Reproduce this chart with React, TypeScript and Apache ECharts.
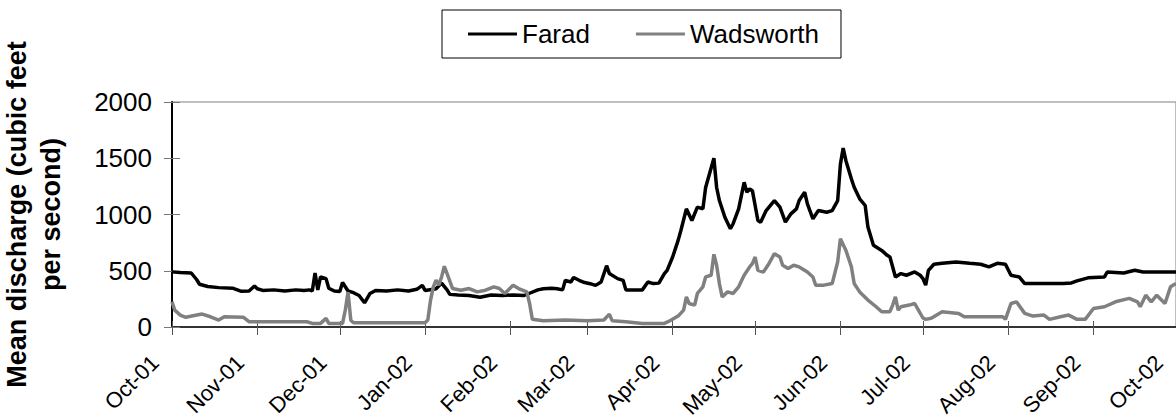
import { useEffect, useRef } from 'react';
import * as echarts from 'echarts';

// X-axis month ticks
const tickDates = [
  '2001-10-01', '2001-11-01', '2001-12-01', '2002-01-01', '2002-02-01', '2002-03-01', '2002-04-01',
  '2002-05-01', '2002-06-01', '2002-07-01', '2002-08-01', '2002-09-01', '2002-10-01',
];
const tickLabels = [
  'Oct-01', 'Nov-01', 'Dec-01', 'Jan-02', 'Feb-02', 'Mar-02', 'Apr-02',
  'May-02', 'Jun-02', 'Jul-02', 'Aug-02', 'Sep-02', 'Oct-02',
];

// Farad (black)
const faradDates = [
  '2001-10-01', '2001-10-04', '2001-10-08', '2001-10-10', '2001-10-11', '2001-10-14', '2001-10-18', '2001-10-23',
  '2001-10-26', '2001-10-29', '2001-10-31', '2001-11-01', '2001-11-03', '2001-11-07', '2001-11-11', '2001-11-15',
  '2001-11-18', '2001-11-20', '2001-11-21', '2001-11-22', '2001-11-23', '2001-11-24', '2001-11-26', '2001-11-27',
  '2001-11-29', '2001-12-01', '2001-12-02', '2001-12-04', '2001-12-06', '2001-12-08', '2001-12-10', '2001-12-12',
  '2001-12-14', '2001-12-18', '2001-12-22', '2001-12-26', '2001-12-29', '2001-12-31', '2002-01-01', '2002-01-04',
  '2002-01-05', '2002-01-07', '2002-01-09', '2002-01-10', '2002-01-13', '2002-01-17', '2002-01-21', '2002-01-25',
  '2002-01-29', '2002-02-02', '2002-02-06', '2002-02-08', '2002-02-11', '2002-02-13', '2002-02-16', '2002-02-18',
  '2002-02-20', '2002-02-21', '2002-02-23', '2002-02-24', '2002-02-26', '2002-02-28', '2002-03-02', '2002-03-04',
  '2002-03-06', '2002-03-08', '2002-03-09', '2002-03-12', '2002-03-14', '2002-03-15', '2002-03-18', '2002-03-21',
  '2002-03-23', '2002-03-25', '2002-03-27', '2002-03-29', '2002-03-30', '2002-04-01', '2002-04-03', '2002-04-04',
  '2002-04-06', '2002-04-08', '2002-04-10', '2002-04-12', '2002-04-13', '2002-04-16', '2002-04-17', '2002-04-18',
  '2002-04-20', '2002-04-22', '2002-04-23', '2002-04-25', '2002-04-27', '2002-04-28', '2002-04-29', '2002-04-30',
  '2002-05-02', '2002-05-03', '2002-05-05', '2002-05-08', '2002-05-10', '2002-05-12', '2002-05-14', '2002-05-16',
  '2002-05-17', '2002-05-19', '2002-05-20', '2002-05-22', '2002-05-24', '2002-05-27', '2002-05-29', '2002-05-31',
  '2002-06-01', '2002-06-02', '2002-06-03', '2002-06-05', '2002-06-06', '2002-06-08', '2002-06-10', '2002-06-11',
  '2002-06-13', '2002-06-16', '2002-06-18', '2002-06-19', '2002-06-21', '2002-06-23', '2002-06-25', '2002-06-28',
  '2002-06-30', '2002-07-01', '2002-07-02', '2002-07-03', '2002-07-05', '2002-07-08', '2002-07-13', '2002-07-18',
  '2002-07-22', '2002-07-25', '2002-07-28', '2002-07-31', '2002-08-02', '2002-08-05', '2002-08-07', '2002-08-11',
  '2002-08-16', '2002-08-21', '2002-08-24', '2002-08-26', '2002-08-30', '2002-09-05', '2002-09-06', '2002-09-12',
  '2002-09-16', '2002-09-19', '2002-10-01',
];
const faradValues = [
  490, 485, 480, 420, 380, 360, 350, 345,
  318, 320, 365, 340, 325, 330, 320, 330,
  325, 330, 320, 480, 330, 445, 430, 345,
  320, 315, 395, 320, 305, 280, 215, 298,
  325, 320, 330, 320, 335, 370, 325, 335,
  340, 390, 330, 290, 285, 280, 265, 285,
  280, 285, 280, 300, 330, 340, 345, 340,
  330, 415, 400, 440, 415, 395, 385, 370,
  400, 545, 475, 430, 415, 330, 330, 330,
  400, 386, 390, 475, 504, 622, 770, 858,
  1050, 947, 1065, 1050, 1240, 1500, 1240, 1124,
  976, 873, 918, 1050, 1286, 1198, 1227, 1212,
  947, 932, 1035, 1124, 1065, 932, 1006, 1050,
  1124, 1198, 1094, 962, 1035, 1020, 1035, 1124,
  1448, 1590, 1478, 1316, 1242, 1139, 1080, 888,
  726, 681, 637, 622, 445, 475, 460, 489,
  460, 431, 372, 504, 558, 566, 578, 566,
  558, 534, 566, 558, 460, 445, 386, 386,
  386, 386, 392, 410, 437, 445, 489, 480,
  504, 489, 489,
];

// Wadsworth (grey)
const wadsworthDates = [
  '2001-10-01', '2001-10-02', '2001-10-04', '2001-10-06', '2001-10-10', '2001-10-12', '2001-10-15', '2001-10-18',
  '2001-10-20', '2001-10-27', '2001-10-29', '2001-11-19', '2001-11-21', '2001-11-24', '2001-11-26', '2001-11-27',
  '2001-12-02', '2001-12-03', '2001-12-04', '2001-12-05', '2001-12-06', '2002-01-01', '2002-01-02', '2002-01-03',
  '2002-01-04', '2002-01-05', '2002-01-06', '2002-01-07', '2002-01-08', '2002-01-09', '2002-01-11', '2002-01-14',
  '2002-01-17', '2002-01-20', '2002-01-23', '2002-01-26', '2002-01-28', '2002-01-30', '2002-02-02', '2002-02-04',
  '2002-02-07', '2002-02-08', '2002-02-09', '2002-02-13', '2002-02-21', '2002-03-01', '2002-03-07', '2002-03-09',
  '2002-03-10', '2002-03-15', '2002-03-21', '2002-03-29', '2002-03-31', '2002-04-03', '2002-04-05', '2002-04-06',
  '2002-04-07', '2002-04-09', '2002-04-10', '2002-04-12', '2002-04-13', '2002-04-15', '2002-04-16', '2002-04-17',
  '2002-04-18', '2002-04-19', '2002-04-21', '2002-04-23', '2002-04-25', '2002-04-27', '2002-04-29', '2002-04-30',
  '2002-05-01', '2002-05-02', '2002-05-04', '2002-05-06', '2002-05-08', '2002-05-10', '2002-05-11', '2002-05-13',
  '2002-05-15', '2002-05-17', '2002-05-20', '2002-05-22', '2002-05-23', '2002-05-26', '2002-05-29', '2002-05-31',
  '2002-06-01', '2002-06-03', '2002-06-05', '2002-06-06', '2002-06-08', '2002-06-11', '2002-06-14', '2002-06-16',
  '2002-06-19', '2002-06-20', '2002-06-21', '2002-06-22', '2002-06-23', '2002-06-26', '2002-06-28', '2002-06-29',
  '2002-07-01', '2002-07-02', '2002-07-04', '2002-07-08', '2002-07-14', '2002-07-16', '2002-07-30', '2002-07-31',
  '2002-08-02', '2002-08-04', '2002-08-07', '2002-08-10', '2002-08-14', '2002-08-16', '2002-08-20', '2002-08-23',
  '2002-08-26', '2002-08-29', '2002-09-01', '2002-09-05', '2002-09-09', '2002-09-14', '2002-09-17', '2002-09-18',
  '2002-09-20', '2002-09-22', '2002-09-24', '2002-09-27', '2002-09-29', '2002-10-01',
];
const wadsworthValues = [
  224, 150, 106, 86, 106, 115, 91, 62,
  91, 86, 47, 47, 32, 32, 77, 32,
  32, 150, 310, 60, 38, 38, 62, 239,
  357, 416, 372, 445, 540, 475, 342, 327,
  342, 312, 327, 357, 342, 298, 372, 342,
  312, 209, 68, 56, 62, 56, 62, 115,
  56, 47, 32, 32, 56, 97, 150, 268,
  209, 195, 298, 357, 445, 460, 646, 549,
  386, 268, 312, 298, 357, 460, 534, 563,
  622, 504, 489, 563, 652, 622, 549, 519,
  549, 534, 489, 445, 372, 372, 386, 578,
  785, 681, 534, 386, 312, 239, 180, 136,
  136, 195, 268, 150, 180, 195, 209, 165,
  80, 68, 77, 136, 121, 91, 91, 68,
  209, 224, 121, 97, 106, 68, 91, 106,
  68, 68, 165, 180, 224, 254, 224, 180,
  283, 224, 283, 209, 357, 386,
];

const toTime = (s: string) => {
  const [y, m, d] = s.split('-').map(Number);
  return Date.UTC(y, m - 1, d);
};

const FONT = 'Arial, "Liberation Sans", Helvetica, sans-serif';

export default function App() {
  const ref = useRef<HTMLDivElement>(null);

  useEffect(() => {
    if (!ref.current) return;
    const chart = echarts.init(ref.current, null, { renderer: 'svg' });
    const tickTimes = tickDates.map(toTime);
    const formatter = (v: number) => {
      let best = -1;
      let bestDiff = Infinity;
      tickTimes.forEach((t, i) => {
        const diff = Math.abs(t - v);
        if (diff < bestDiff) { bestDiff = diff; best = i; }
      });
      return best >= 0 && bestDiff < 3600000 ? tickLabels[best] : '';
    };
    const xBase = {
      type: 'value',
      gridIndex: 0,
      position: 'bottom',
      min: tickTimes[0],
      max: tickTimes[tickTimes.length - 1],
      splitLine: { show: false },
    };
    const yBase = {
      type: 'value',
      gridIndex: 0,
      position: 'left',
      min: 0,
      max: 2000,
      interval: 500,
      splitLine: { show: false },
    };

    chart.setOption({
      animation: false,
      textStyle: { fontFamily: FONT },
      legend: {
        left: 442,
        top: 10,
        padding: [11, 22, 11, 26],
        itemWidth: 49,
        itemHeight: 3,
        itemGap: 46,
        icon: 'rect',
        borderColor: '#000',
        borderWidth: 1,
        backgroundColor: '#fff',
        textStyle: { fontSize: 26, color: '#000', fontFamily: FONT },
        data: ['Farad', 'Wadsworth'],
      },
      grid: {
        left: 172,
        top: 102,
        right: 0,
        bottom: 93,
        show: true,
        borderColor: '#808080',
        borderWidth: 1,
        backgroundColor: 'transparent',
        outerBoundsMode: 'none',
        containLabel: false,
      },
      xAxis: [
        {
          ...xBase,
          axisLine: { show: true, lineStyle: { color: '#333', width: 2 } },
          axisTick: { show: true, inside: false, length: 8, customValues: tickTimes, lineStyle: { color: '#555', width: 1 } },
          axisLabel: {
            show: true,
            customValues: tickTimes,
            formatter,
            rotate: 45,
            fontSize: 22,
            color: '#000',
            fontFamily: FONT,
            margin: 15,
            padding: [0, 24, 0, 0],
          },
        },
        {
          ...xBase,
          axisLine: { show: false },
          axisTick: { show: true, inside: true, length: 6, customValues: tickTimes, lineStyle: { color: '#555', width: 1 } },
          axisLabel: { show: false },
        },
      ],
      yAxis: [
        {
          ...yBase,
          name: 'Mean discharge (cubic feet\nper second)',
          nameLocation: 'middle',
          nameRotate: 90,
          nameGap: 104,
          nameTextStyle: { fontSize: 27, fontWeight: 'bold', color: '#000', lineHeight: 34, fontFamily: FONT },
          axisLine: { show: true, lineStyle: { color: '#000', width: 2 } },
          axisTick: { show: true, inside: false, length: 8, lineStyle: { color: '#777', width: 1 } },
          axisLabel: { fontSize: 26, color: '#000', margin: 20, fontFamily: FONT, formatter: (v: number) => String(v) },
        },
        {
          ...yBase,
          axisLine: { show: false },
          axisTick: { show: true, inside: true, length: 8, lineStyle: { color: '#777', width: 1 } },
          axisLabel: { show: false },
        },
      ],
      series: [
        {
          name: 'Farad',
          type: 'line',
          xAxisIndex: 0,
          yAxisIndex: 0,
          showSymbol: false,
          symbol: 'none',
          color: '#000',
          lineStyle: { color: '#000', width: 3.5 },
          data: faradDates.map((d, i) => [toTime(d), faradValues[i]]),
        },
        {
          name: 'Wadsworth',
          type: 'line',
          xAxisIndex: 0,
          yAxisIndex: 0,
          showSymbol: false,
          symbol: 'none',
          color: '#808080',
          lineStyle: { color: '#808080', width: 3.5 },
          data: wadsworthDates.map((d, i) => [toTime(d), wadsworthValues[i]]),
        },
      ],
    });

    return () => chart.dispose();
  }, []);

  return (
    <div
      ref={ref}
      style={{ position: 'fixed', left: 0, top: 0, width: 1176, height: 420, background: '#fff' }}
    />
  );
}
